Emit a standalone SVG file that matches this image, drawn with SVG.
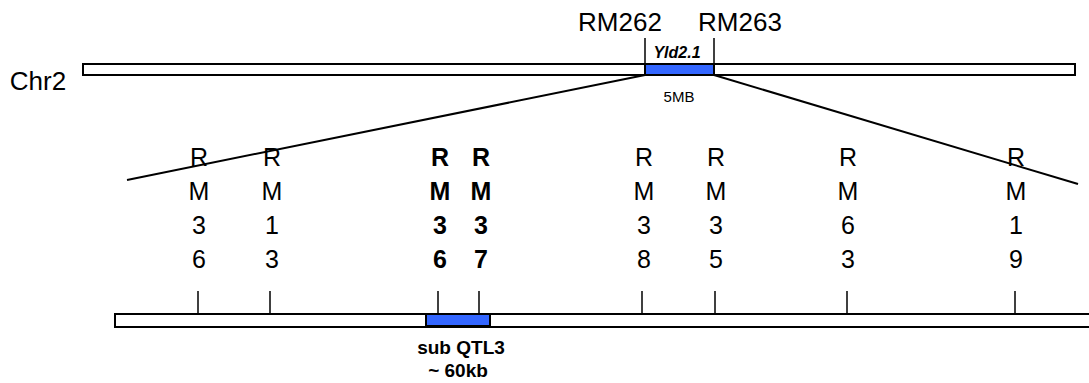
<svg xmlns="http://www.w3.org/2000/svg" width="1089" height="383" viewBox="0 0 1089 383">
  <style>
    .bar { fill: #ffffff; stroke: #000000; stroke-width: 2; }
    .qtl { fill: #3366ff; stroke: #000000; stroke-width: 2; }
    .tick { stroke: #000000; stroke-width: 1.5; fill: none; }
    .zoom { stroke: #000000; stroke-width: 2; fill: none; }
    .lbl { font-family: "Liberation Sans", Arial, sans-serif; font-size: 25px; fill: #000000; text-anchor: middle; }
    .b { font-weight: bold; }
    .small { font-family: "Liberation Sans", Arial, sans-serif; font-size: 14px; fill: #000000; text-anchor: middle; }
  </style>

  <!-- chromosome 2 overview -->
  <g id="chr2">
    <text x="38" y="90" class="lbl" style="font-size:26px">Chr2</text>
    <rect x="83" y="64" width="992" height="11" class="bar"/>
    <rect x="645" y="64" width="69" height="11" class="qtl"/>
  </g>

  <g id="yld21">
    <line x1="645" y1="38" x2="645" y2="64" class="tick"/>
    <line x1="714" y1="38" x2="714" y2="64" class="tick"/>
    <text x="620" y="31" class="lbl" style="font-size:26px">RM262</text>
    <text x="740" y="31" class="lbl" style="font-size:26px">RM263</text>
    <text x="677" y="58" class="small" style="font-weight:bold;font-style:italic;font-size:16px">Yld2.1</text>
    <text x="679" y="102" class="small" style="font-size:15px">5MB</text>
  </g>

  <!-- zoom-out lines to the fine map -->
  <g id="connectors">
    <line x1="645" y1="75" x2="127" y2="180" class="zoom"/>
    <line x1="714" y1="75" x2="1078" y2="184" class="zoom"/>
  </g>

  <!-- fine map -->
  <g id="finemap">
    <path d="M1089 314 H115 V327 H1089" class="bar"/>
    <rect x="426" y="314" width="64" height="12" class="qtl"/>
    <text x="461" y="354" class="small b" style="font-size:19px">sub QTL3</text>
    <text x="458" y="377" class="small b" style="font-size:19px">~ 60kb</text>
  </g>

  <g id="RM36">
    <line x1="198" y1="291" x2="198" y2="314" class="tick"/>
    <text class="lbl"><tspan x="199" y="166">R</tspan><tspan x="199" y="200">M</tspan><tspan x="199" y="234">3</tspan><tspan x="199" y="268">6</tspan></text>
  </g>
  <g id="RM13">
    <line x1="270" y1="291" x2="270" y2="314" class="tick"/>
    <text class="lbl"><tspan x="272" y="166">R</tspan><tspan x="272" y="200">M</tspan><tspan x="272" y="234">1</tspan><tspan x="272" y="268">3</tspan></text>
  </g>
  <g id="RM366">
    <line x1="438" y1="291" x2="438" y2="314" class="tick"/>
    <text class="lbl b"><tspan x="440" y="166">R</tspan><tspan x="440" y="200">M</tspan><tspan x="440" y="234">3</tspan><tspan x="440" y="268">6</tspan></text>
  </g>
  <g id="RM367">
    <line x1="479" y1="291" x2="479" y2="314" class="tick"/>
    <text class="lbl b"><tspan x="481" y="166">R</tspan><tspan x="481" y="200">M</tspan><tspan x="481" y="234">3</tspan><tspan x="481" y="268">7</tspan></text>
  </g>
  <g id="RM38">
    <line x1="642" y1="291" x2="642" y2="314" class="tick"/>
    <text class="lbl"><tspan x="644" y="166">R</tspan><tspan x="644" y="200">M</tspan><tspan x="644" y="234">3</tspan><tspan x="644" y="268">8</tspan></text>
  </g>
  <g id="RM35">
    <line x1="715" y1="291" x2="715" y2="314" class="tick"/>
    <text class="lbl"><tspan x="716" y="166">R</tspan><tspan x="716" y="200">M</tspan><tspan x="716" y="234">3</tspan><tspan x="716" y="268">5</tspan></text>
  </g>
  <g id="RM63">
    <line x1="847" y1="291" x2="847" y2="314" class="tick"/>
    <text class="lbl"><tspan x="848" y="166">R</tspan><tspan x="848" y="200">M</tspan><tspan x="848" y="234">6</tspan><tspan x="848" y="268">3</tspan></text>
  </g>
  <g id="RM19">
    <line x1="1015" y1="291" x2="1015" y2="314" class="tick"/>
    <text class="lbl"><tspan x="1016" y="166">R</tspan><tspan x="1016" y="200">M</tspan><tspan x="1016" y="234">1</tspan><tspan x="1016" y="268">9</tspan></text>
  </g>
</svg>
